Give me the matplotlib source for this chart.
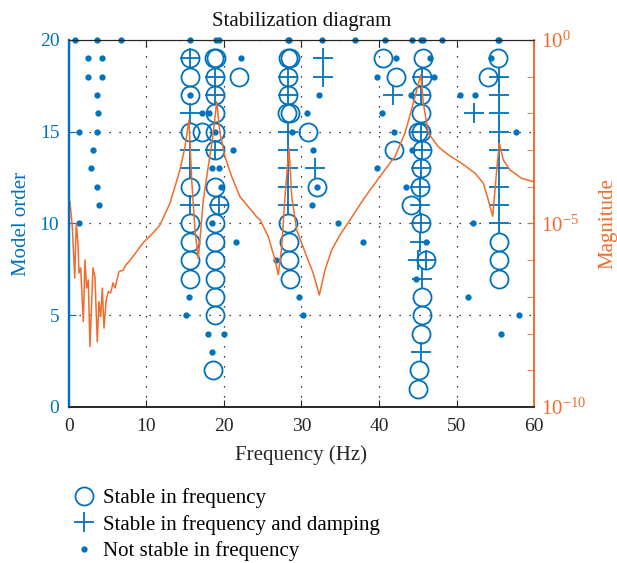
import matplotlib.pyplot as plt
from matplotlib.lines import Line2D
from matplotlib.ticker import FixedLocator, LogFormatterSciNotation, NullFormatter
import numpy as np

# model order -> frequencies (Hz) for each pole category
stable_freq = {
    19: [15.6, 18.7, 19.0, 28.2, 28.5, 40.5, 45.7, 55.4],
    18: [15.6, 18.9, 22.0, 28.3, 42.2, 45.5, 54.1],
    17: [15.6, 18.8, 28.3, 45.4],
    16: [18.9, 28.1, 28.5, 45.4],
    15: [15.6, 17.2, 18.9, 30.8, 45.0, 45.4],
    14: [18.9, 41.9, 45.5],
    13: [45.4],
    12: [15.6, 18.9, 32.0, 45.3],
    11: [19.3, 44.1],
    10: [15.6, 18.9, 28.3, 45.4],
    9: [15.6, 18.9, 28.4, 55.5],
    8: [15.6, 18.9, 28.4, 46.0, 55.5],
    7: [15.6, 18.9, 28.5, 55.5],
    6: [18.9, 45.5],
    5: [18.9, 45.5],
    4: [45.4],
    2: [18.6, 45.2],
    1: [45.0],
}
damped_freq = {
    19: [15.6, 32.8],
    18: [18.9, 28.3, 32.8, 45.5, 55.5],
    17: [18.8, 28.3, 41.8, 45.4, 55.5],
    16: [15.6, 52.2, 55.5],
    15: [28.3, 45.4, 55.5],
    14: [15.6, 18.9, 28.3, 45.5, 55.5],
    13: [15.6, 28.3, 31.7, 45.4, 55.5],
    12: [28.3, 45.3, 55.5],
    11: [15.6, 19.3, 28.3, 45.3, 55.5],
    10: [45.4, 55.5],
    9: [45.3],
    8: [45.0, 46.0],
    7: [45.6],
    3: [45.4],
}
unstable_freq = {
    20: [0.8, 3.6, 6.7, 15.6, 19.0, 19.4, 28.2, 28.4, 32.6, 36.9, 40.8, 44.3, 45.4, 45.7, 48.1, 55.3, 55.5],
    19: [2.5, 4.3, 22.2, 42.2, 46.6, 54.4],
    18: [2.5, 4.3, 39.8, 47.1],
    17: [3.6, 15.6, 32.3, 44.1, 50.5, 52.4],
    16: [3.7, 17.1, 18.1, 30.7, 40.4],
    15: [1.3, 3.6, 18.8, 28.8, 41.9, 57.7],
    14: [3.1, 21.1, 31.5, 44.2],
    13: [2.8, 18.5, 19.4, 39.7],
    12: [3.6, 19.6, 32.0, 43.5],
    11: [3.9, 31.4],
    10: [1.3, 18.5, 34.7, 52.1],
    9: [21.6, 37.9, 46.1],
    8: [26.7],
    7: [44.8],
    6: [15.5, 29.7, 51.5],
    5: [15.1, 30.2, 58.0],
    4: [18.0, 20.0, 55.8],
    3: [18.5],
}

# frequency response (Hz, log10 magnitude)
curve_freq = [0.13, 0.43, 0.74, 0.94, 1.16, 1.29, 1.51, 1.85, 2.06, 2.28, 2.49, 2.71,
              3.10, 3.35, 3.65, 3.87, 4.09, 4.30, 4.52, 4.81, 5.07, 5.38, 5.68, 5.94,
              6.45, 7.01, 7.32, 7.74, 8.39, 9.55, 10.84, 11.74, 13.03, 14.32, 14.97,
              15.48, 15.83, 16.26, 16.68, 16.90, 17.33, 17.97, 18.62, 19.06, 19.48,
              20.13, 20.99, 22.06, 24.22, 24.65, 25.72, 26.58, 27.01, 27.45, 27.87,
              28.39, 28.74, 29.38, 30.67, 31.52, 32.30, 33.03, 33.90, 34.97, 36.26,
              37.94, 38.84, 41.42, 42.06, 43.35, 44.43, 45.38, 45.72, 46.36, 47.65,
              48.94, 50.67, 52.39, 53.46, 54.10, 54.67, 55.19, 55.52, 56.04, 56.90,
              58.41, 59.91]
curve_log = [-4.41, -5.09, -6.49, -4.99, -5.53, -6.35, -6.21, -7.68, -5.99, -6.76, -6.54, -8.36,
             -6.21, -6.45, -8.22, -7.13, -7.54, -6.76, -7.85, -7.08, -6.86, -6.89, -6.62, -6.76,
             -6.31, -6.27, -6.13, -6.04, -5.86, -5.53, -5.26, -5.04, -4.45, -3.54, -2.91,
             -2.18, -3.81, -5.18, -5.95, -5.45, -4.36, -3.45, -2.53, -1.68, -2.53,
             -3.18, -3.72, -4.27, -4.82, -4.90, -5.36, -5.99, -6.40, -5.63, -4.27,
             -2.95, -4.27, -5.18, -5.90, -6.36, -6.95, -6.27, -5.72, -5.31, -4.90,
             -4.36, -4.09, -3.35, -3.18, -2.54, -1.72, -0.95, -1.72, -2.54, -2.91,
             -3.13, -3.36, -3.63, -3.90, -4.36, -4.80, -3.54, -2.81, -3.27, -3.54,
             -3.77, -3.86]

legend_labels = ['Stable in frequency', 'Stable in frequency and damping', 'Not stable in frequency']

plt.rcParams['font.family'] = ['Liberation Serif', 'DejaVu Serif']
plt.rcParams['mathtext.fontset'] = 'stix'

blue = '#0072BD'
orange = '#F26B2A'
dark = '#262626'


def flatten(d):
    f, o = [], []
    for order, freqs in d.items():
        f += freqs
        o += [order] * len(freqs)
    return f, o


fig = plt.figure(figsize=(6.17, 5.63), dpi=100)
ax = fig.add_axes([0.1118, 0.2771, 0.7537, 0.6519])
ax2 = ax.twinx()

f, o = flatten(stable_freq)
ax.plot(f, o, 'o', ms=13, mfc='none', mec=blue, mew=1.3, ls='none', clip_on=False)
f, o = flatten(damped_freq)
ax.plot(f, o, '+', ms=14, mec=blue, mew=1.3, ls='none', clip_on=False)
f, o = flatten(unstable_freq)
ax.plot(f, o, '.', ms=7, color=blue, ls='none', clip_on=False)

ax2.plot(curve_freq, 10.0 ** np.array(curve_log), color=orange, lw=1.1)

ax.set_xlim(0, 60)
ax.set_ylim(0, 20)
ax.set_xticks([0, 10, 20, 30, 40, 50, 60])
ax.set_yticks([0, 5, 10, 15, 20])
ax.grid(True, color='k', linestyle=(0, (1, 7)), linewidth=0.9)
ax.tick_params(axis='x', direction='in', length=5, top=True, colors=dark, labelsize=14, pad=8)
ax.tick_params(axis='y', direction='in', length=5, colors=blue, labelsize=14, pad=7)
ax.set_xlabel('Frequency (Hz)', fontsize=15, color=dark, labelpad=7)
ax.set_ylabel('Model order', fontsize=15, color=blue, labelpad=6)
ax.set_title('Stabilization diagram', fontsize=15, color='#111111', pad=10)

ax2.set_yscale('log')
ax2.set_ylim(1e-10, 1)
ax2.yaxis.set_major_locator(FixedLocator([1e-10, 1e-5, 1]))
ax2.yaxis.set_major_formatter(LogFormatterSciNotation())
ax2.yaxis.set_minor_locator(FixedLocator([10.0 ** k for k in range(-9, 0)]))
ax2.yaxis.set_minor_formatter(NullFormatter())
ax2.tick_params(axis='y', which='both', direction='in', length=5, colors=orange, labelsize=15, pad=5)
ax2.set_ylabel('Magnitude', fontsize=15, color=orange, labelpad=9)

for a in (ax, ax2):
    a.spines['left'].set_color(blue)
    a.spines['left'].set_linewidth(1.6)
    a.spines['right'].set_color(orange)
    a.spines['right'].set_linewidth(1.2)
    a.spines['bottom'].set_color(dark)
    a.spines['bottom'].set_linewidth(1.2)
    a.spines['top'].set_color(dark)

handles = [
    Line2D([], [], marker='o', ms=13, mfc='none', mec=blue, mew=1.3, ls='none'),
    Line2D([], [], marker='+', ms=14, mec=blue, mew=1.3, ls='none'),
    Line2D([], [], marker='.', ms=7, color=blue, ls='none'),
]
fig.legend(handles, legend_labels, loc='upper left', bbox_to_anchor=(0.1, 0.148),
           frameon=False, fontsize=15, handlelength=1.3, handletextpad=0.3,
           labelspacing=0.33, borderaxespad=0)

fig.savefig('out.png', dpi=100)
